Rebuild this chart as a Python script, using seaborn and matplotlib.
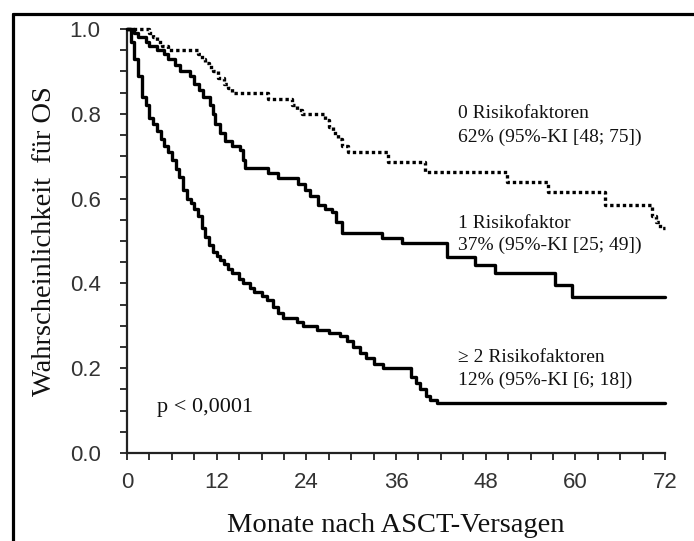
import matplotlib
matplotlib.use("Agg")
import matplotlib.pyplot as plt
from matplotlib.lines import Line2D
from matplotlib.ticker import MultipleLocator
import seaborn as sns
import pandas as pd

# ---- data (Kaplan-Meier steps) ----
t_r0 = [0, 3.0, 3.5, 4.0, 4.7, 5.5, 9.5, 10.0, 10.5, 11.0, 11.5, 12.2, 13.0, 13.5, 14.1,
        18.9, 22.1, 22.8, 23.4, 26.5, 27.0, 27.6, 28.2, 28.8, 29.6, 34.9, 39.9, 50.9,
        56.3, 64.0, 70.3, 70.8, 71.3, 72]
s_r0 = [1.0, 0.99, 0.98, 0.97, 0.96, 0.95, 0.94, 0.93, 0.92, 0.91, 0.90, 0.885, 0.87, 0.86, 0.85,
        0.835, 0.82, 0.81, 0.80, 0.785, 0.77, 0.755, 0.74, 0.725, 0.71, 0.686, 0.663, 0.639,
        0.616, 0.585, 0.56, 0.545, 0.53, 0.53]

t_r1 = [0, 1.0, 1.5, 2.5, 3.0, 4.0, 5.0, 5.5, 6.4, 7.1, 8.4, 9.0, 9.6, 10.2, 11.1, 11.5, 11.8,
        12.5, 13.1, 14.0, 15.1, 15.5, 15.8, 18.9, 20.2, 22.9, 23.8, 24.5, 25.6, 26.5, 27.4,
        28.0, 28.8, 34.1, 36.8, 42.8, 46.6, 49.3, 57.3, 59.6, 72]
s_r1 = [1.0, 0.99, 0.98, 0.97, 0.96, 0.95, 0.94, 0.93, 0.915, 0.90, 0.89, 0.87, 0.855, 0.84,
        0.82, 0.80, 0.775, 0.755, 0.735, 0.725, 0.715, 0.69, 0.672, 0.66, 0.649, 0.635, 0.62,
        0.605, 0.585, 0.575, 0.568, 0.545, 0.52, 0.508, 0.495, 0.462, 0.443, 0.425, 0.396,
        0.368, 0.368]

t_r2 = [0, 0.5, 1.0, 1.5, 2.0, 2.5, 3.0, 3.5, 4.0, 4.5, 5.0, 5.5, 6.0, 6.5, 7.0, 7.5, 8.0,
        8.5, 9.0, 9.5, 10.0, 10.5, 11.0, 11.5, 12.0, 12.5, 13.0, 13.5, 14.0, 15.0, 15.5, 16.5,
        17.0, 18.0, 18.7, 19.5, 20.2, 20.9, 22.7, 23.5, 25.4, 27.0, 28.5, 29.5, 30.2, 31.2,
        32.0, 33.0, 34.3, 38.0, 38.7, 39.2, 40.0, 40.5, 41.5, 72]
s_r2 = [1.0, 0.97, 0.93, 0.89, 0.84, 0.82, 0.79, 0.775, 0.76, 0.74, 0.725, 0.71, 0.69, 0.67,
        0.65, 0.62, 0.60, 0.59, 0.575, 0.56, 0.53, 0.51, 0.49, 0.475, 0.465, 0.455, 0.445,
        0.435, 0.425, 0.41, 0.40, 0.39, 0.38, 0.37, 0.36, 0.345, 0.33, 0.318, 0.31, 0.30, 0.29,
        0.283, 0.275, 0.265, 0.25, 0.236, 0.225, 0.21, 0.20, 0.18, 0.165, 0.15, 0.135, 0.125,
        0.118, 0.118]

x_ticks = [0, 12, 24, 36, 48, 60, 72]
y_ticks = [0.0, 0.2, 0.4, 0.6, 0.8, 1.0]

labels_head = ["0 Risikofaktoren", "1 Risikofaktor", "\u2265 2 Risikofaktoren"]
labels_ci = ["62% (95%-KI [48; 75])", "37% (95%-KI [25; 49])", "12% (95%-KI [6; 18])"]
p_text = "p < 0,0001"

sns.set_theme(style="white")
plt.rcParams["font.family"] = ["Liberation Sans", "DejaVu Sans"]

W, H = 694, 541
fig = plt.figure(figsize=(W / 100, H / 100), dpi=100)
ax = fig.add_axes([127 / W, 1 - 453 / H, (665 - 127) / W, (453 - 29) / H])

groups = [(t_r0, s_r0, (0, (1.0, 0.9))), (t_r1, s_r1, "-"), (t_r2, s_r2, "-")]
for t, s, ls in groups:
    df = pd.DataFrame({"t": t, "s": s})
    sns.lineplot(data=df, x="t", y="s", ax=ax, color="black", linewidth=2.4,
                 linestyle=ls, drawstyle="steps-post", estimator=None, sort=False,
                 clip_on=False, zorder=3)

ax.set_xlim(0, 72)
ax.set_ylim(0, 1.0)
ax.set_xticks(x_ticks)
ax.set_yticks(y_ticks)
ax.set_yticklabels([f"{v:.1f}" for v in y_ticks])
ax.xaxis.set_minor_locator(MultipleLocator(3))
ax.yaxis.set_minor_locator(MultipleLocator(0.05))
for side in ["top", "right"]:
    ax.spines[side].set_visible(False)
for side in ["left", "bottom"]:
    ax.spines[side].set_color("#222222")
    ax.spines[side].set_linewidth(1.6)
ax.tick_params(which="both", direction="out", length=5, width=1.3, color="#222222",
               left=True, bottom=True)
ax.tick_params(axis="both", which="major", labelsize=16, labelcolor="#333333")
ax.tick_params(axis="y", which="major", pad=14)
ax.tick_params(axis="x", which="major", pad=9)

serif = ["Liberation Serif", "DejaVu Serif"]
ax.set_xlabel("Monate nach ASCT-Versagen", fontsize=20.5, family=serif, color="#111111",
              labelpad=14)
ax.set_ylabel("Wahrscheinlichkeit  f\u00fcr OS", fontsize=20.5, family=serif, color="#111111",
              labelpad=9)

txt_x = 44.3
for (yh, yc), head, ci in zip([(0.79, 0.733), (0.53, 0.479), (0.215, 0.16)], labels_head, labels_ci):
    ax.text(txt_x, yh, head, fontsize=14, family=serif, color="#111111", va="baseline")
    ax.text(txt_x, yc, ci, fontsize=14, family=serif, color="#111111", va="baseline")
ax.text(4.0, 0.097, p_text, fontsize=16, family=serif, color="#111111", va="baseline")

# outer frame (left and top edges visible in the reference)
fig.add_artist(Line2D([12.5 / W, 12.5 / W], [0, 1 - 13.5 / H], color="black", linewidth=2.3,
                      transform=fig.transFigure))
fig.add_artist(Line2D([12.5 / W, 1.0], [1 - 13.5 / H, 1 - 13.5 / H], color="black",
                      linewidth=2.3, transform=fig.transFigure))

fig.savefig("out.png", dpi=100)
